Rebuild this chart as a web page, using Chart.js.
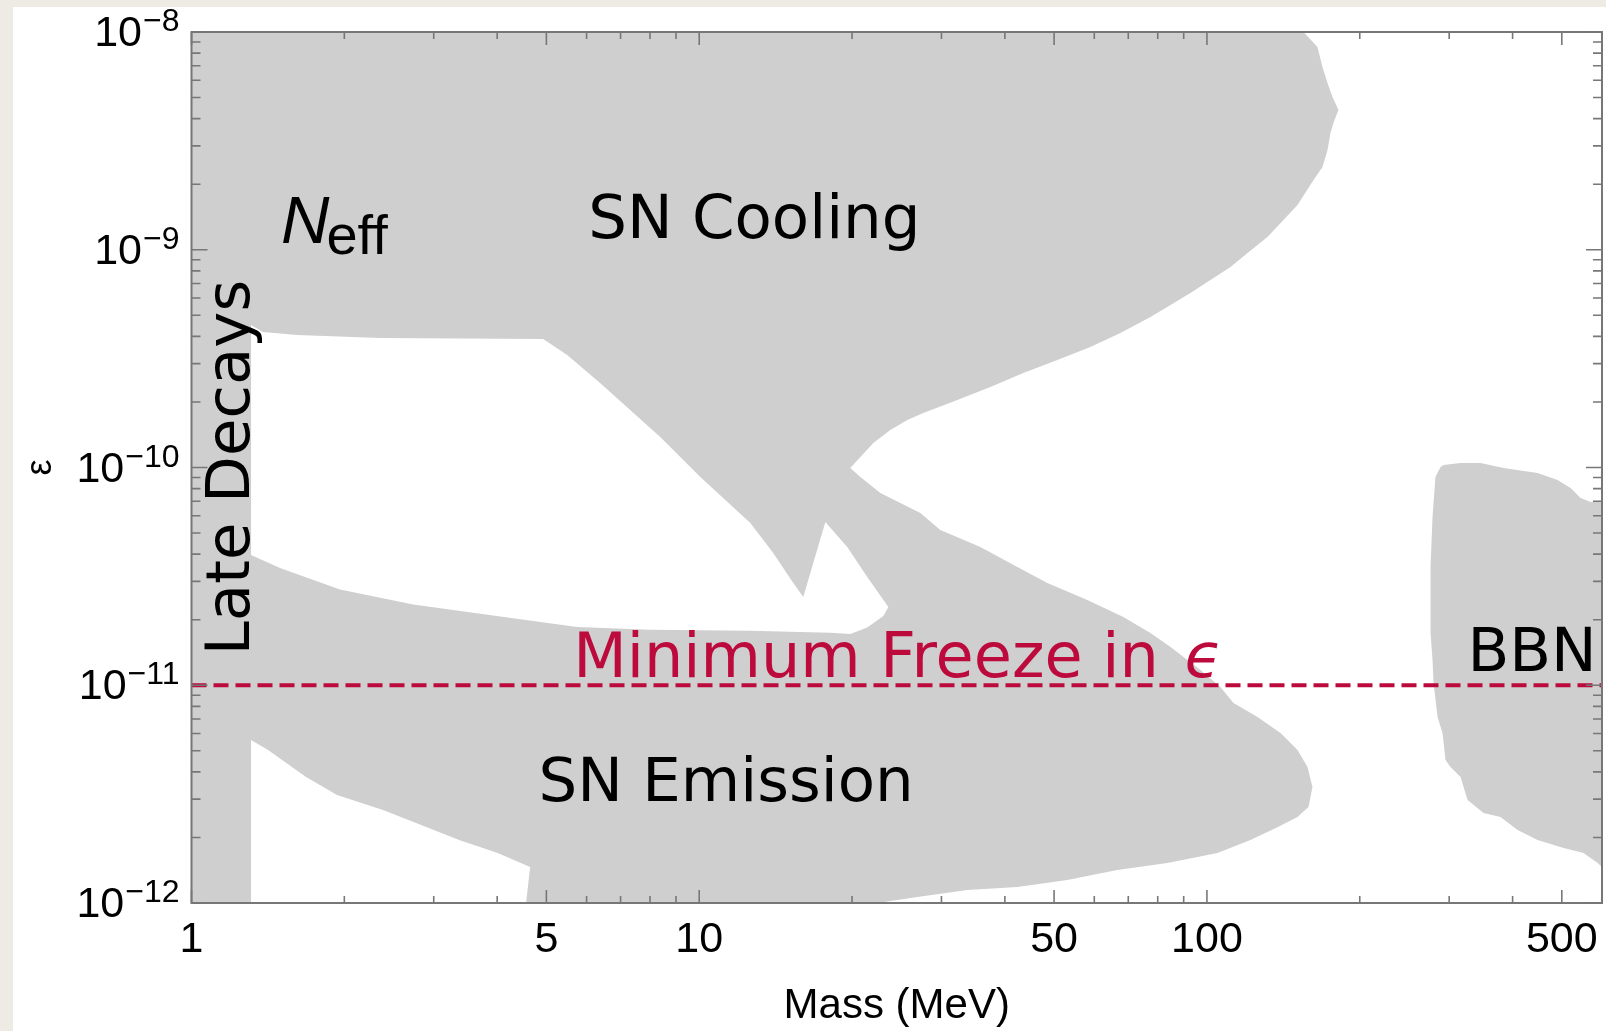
<!DOCTYPE html>
<html>
<head>
<meta charset="utf-8">
<script src="https://cdn.jsdelivr.net/npm/chart.js@4.4.1/dist/chart.umd.min.js"></script>
<style>
  html, body { margin: 0; padding: 0; width: 1606px; height: 1031px; overflow: hidden; background: #eeebe5; }
  #wrap { position: absolute; left: 13px; top: 7px; width: 1593px; height: 1024px; background: #ffffff; }
</style>
</head>
<body>
<div id="wrap"><canvas id="chart"></canvas></div>
<script>
// Dark photon parameter space: mass (MeV) against kinetic mixing epsilon.
const massRange = [1, 600];
const epsRange = [1e-12, 1e-8];
const freezeInEps = 1e-11;

// Axis ticks
const xMajorTicks = [1, 5, 10, 50, 100, 500];
const xMinorTicks = [2, 3, 4, 6, 7, 8, 9, 20, 30, 40, 60, 70, 80, 90, 200, 300, 400];
const yDecades = [-12, -11, -10, -9, -8];

// Late-decay exclusion strip
const lateMass = [1, 1.31, 1.31, 1];
const lateEps = [1e-12, 1e-12, 1e-8, 1e-8];

// Outer edge of the N_eff / SN cooling / SN emission exclusion, traced clockwise
const snOuterMass = [1, 155, 165.1, 168.9, 172.8, 176.7, 181.6, 177.5, 175.1, 172.8, 168.9, 162.2,
  150.8, 141.5, 131.6, 120.2, 111.3, 101.6, 92.8, 84.8, 77.4,
  67.55, 58.94, 50.74, 43.49, 37.44, 32.25, 27.63, 25.70, 23.79, 22.03, 20.77, 19.84,
  20.77, 22.74, 27.26, 29.85, 35.79, 42.33, 48.5, 58.15, 68.46, 77.4, 84.8, 97.1, 106.3,
  112.8, 125.8, 139.6, 150.8, 157.8, 161.4,
  158.5, 150.8, 137.7, 121.8, 104.9, 83.6, 66.6, 53.1, 42.33, 33.73, 26.89, 22.42, 1];
const snOuterEps = [1e-8, 1e-8, 8.53e-9, 6.9e-9, 5.83e-9, 5.03e-9, 4.38e-9, 3.82e-9, 3.44e-9, 2.87e-9, 2.40e-9, 2.09e-9,
  1.605e-9, 1.37e-9, 1.145e-9, 9.66e-10, 8.33e-10, 7.26e-10, 6.33e-10, 5.58e-10, 4.91e-10,
  4.146e-10, 3.575e-10, 3.116e-10, 2.716e-10, 2.343e-10, 2.042e-10, 1.779e-10, 1.652e-10, 1.487e-10, 1.296e-10, 1.117e-10, 9.95e-11,
  9.04e-11, 7.64e-11, 6.18e-11, 5.16e-11, 4.31e-11, 3.49e-11, 2.95e-11, 2.46e-11, 2.06e-11, 1.738e-11, 1.499e-11, 1.175e-11, 9.82e-12,
  8.29e-12, 7.15e-12, 6.03e-12, 5.04e-12, 4.21e-12, 3.41e-12,
  2.76e-12, 2.48e-12, 2.23e-12, 1.946e-12, 1.697e-12, 1.527e-12, 1.418e-12, 1.275e-12, 1.184e-12, 1.147e-12, 1.065e-12, 1e-12, 1e-12];

// Allowed window between the N_eff/cooling band and the SN emission band
const gapMass = [1.31, 1.383, 1.614, 2.351, 4.927, 5.495, 6.38, 8.38, 10.05, 12.61, 13.99, 15.32, 16.03,
  17.72, 19.57, 21.43, 23.58, 23.05, 21.43, 19.84, 18.12, 12.61, 8.01, 5.75, 4.30, 2.733, 1.961, 1.494, 1.31];
const gapEps = [4.51e-10, 4.19e-10, 4.06e-10, 3.93e-10, 3.89e-10, 3.285e-10, 2.443e-10, 1.38e-10, 9.04e-11, 5.56e-11, 4.05e-11, 2.95e-11, 2.54e-11,
  5.62e-11, 4.31e-11, 3.14e-11, 2.29e-11, 2.08e-11, 1.84e-11, 1.72e-11, 1.74e-11, 1.78e-11, 1.80e-11, 1.85e-11, 2.03e-11, 2.35e-11, 2.75e-11, 3.455e-11, 3.965e-11];

// Allowed corner below SN emission at low mass
const lowGapMass = [1.31, 1.415, 1.681, 1.935, 2.384, 2.833, 3.366, 4.009, 4.645, 4.561, 1.31];
const lowGapEps = [5.61e-12, 5.04e-12, 3.79e-12, 3.13e-12, 2.674e-12, 2.282e-12, 1.946e-12, 1.697e-12, 1.463e-12, 1e-12, 1e-12];

// BBN exclusion
const bbnMass = [292.4, 315.9, 345.9, 383.9, 447.9, 490.5, 520.3, 544.5, 569.8, 600, 600, 588.2, 551.9, 504.2, 447.9,
  409.1, 378.8, 350.6, 326.1, 315.9, 301.8, 295.1, 291.1, 284.6, 279.5, 278.2, 275.7, 275.7, 278.2, 281.9, 288.5];
const bbnEps = [1.027e-10, 1.049e-10, 1.049e-10, 9.95e-11, 9.43e-11, 8.76e-11, 8.05e-11, 7.24e-11, 6.94e-11, 6.94e-11, 1.463e-12, 1.527e-12, 1.697e-12, 1.789e-12, 1.946e-12,
  2.164e-12, 2.483e-12, 2.59e-12, 2.972e-12, 3.79e-12, 4.21e-12, 4.535e-12, 6.03e-12, 7.15e-12, 1.024e-11, 1.306e-11, 1.738e-11, 3.49e-11, 5.92e-11, 9.04e-11, 1.005e-10];

// Region labels, anchored in data coordinates (centre of text, baseline)
const regionLabels = [
  { text: 'SN Cooling', mass: 12.84, eps: 1.13e-9 },
  { text: 'SN Emission', mass: 11.30, eps: 2.94e-12 },
  { text: 'BBN', mass: 436.9, eps: 1.162e-11 }
];
const lateLabel = { text: 'Late Decays', mass: 1.298, eps: 1e-10 };
const neffLabel = { main: 'N', sub: 'eff', mass: 1.501, eps: 1.074e-9 };
const freezeLabel = { text: 'Minimum Freeze in ', symbol: '\u03F5', mass: 24.3, eps: 1.091e-11 };

const GRAY = '#cfcfcf';
const CRIMSON = '#bd0a3c';
const FRAME = '#777777';
const LABEL_FONT = '"DejaVu Sans", sans-serif';
const AXIS_FONT = '"Liberation Sans", Arial, sans-serif';

function polygon(label, mass, eps, color, order) {
  return {
    label,
    data: mass.map((m, i) => ({ x: m, y: eps[i] })),
    backgroundColor: color,
    borderColor: 'rgba(0,0,0,0)',
    borderWidth: 1,
    pointRadius: 0,
    pointHoverRadius: 0,
    tension: 0,
    fill: 'shape',
    order
  };
}

const framePlugin = {
  id: 'frameTicks',
  afterDatasetsDraw(chart) {
    const { ctx, chartArea: a, scales: { x, y } } = chart;
    ctx.save();
    // frame
    ctx.strokeStyle = FRAME;
    ctx.lineWidth = 2;
    ctx.strokeRect(a.left, a.top, a.right - a.left, a.bottom - a.top);
    // x ticks (bottom and top, pointing inwards)
    ctx.lineWidth = 1.6;
    ctx.beginPath();
    const xt = [...xMajorTicks.map(v => [v, 13]), ...xMinorTicks.map(v => [v, 7])];
    for (const [v, len] of xt) {
      const px = x.getPixelForValue(v);
      ctx.moveTo(px, a.bottom); ctx.lineTo(px, a.bottom - len);
      ctx.moveTo(px, a.top); ctx.lineTo(px, a.top + len);
    }
    // y ticks (left and right)
    const yt = [];
    for (const d of yDecades) {
      yt.push([Math.pow(10, d), 16]);
      if (d < -8) for (let k = 2; k <= 9; k++) yt.push([k * Math.pow(10, d), 9]);
    }
    for (const [v, len] of yt) {
      const py = y.getPixelForValue(v);
      ctx.moveTo(a.left, py); ctx.lineTo(a.left + len, py);
      ctx.moveTo(a.right, py); ctx.lineTo(a.right - len, py);
    }
    ctx.stroke();

    // tick labels
    ctx.fillStyle = '#000';
    ctx.textBaseline = 'alphabetic';
    ctx.textAlign = 'center';
    ctx.font = '43px ' + AXIS_FONT;
    for (const v of xMajorTicks) {
      ctx.fillText(String(v), x.getPixelForValue(v), a.bottom + 49);
    }
    ctx.textAlign = 'right';
    for (const d of yDecades) {
      const py = y.getPixelForValue(Math.pow(10, d));
      const exp = '\u2212' + Math.abs(d);
      const rx = a.left - 12;
      ctx.font = '32px ' + AXIS_FONT;
      const ew = ctx.measureText(exp).width;
      ctx.fillText(exp, rx, py - 1);
      ctx.font = '43px ' + AXIS_FONT;
      ctx.fillText('10', rx - ew - 1, py + 14);
    }

    // region labels
    ctx.fillStyle = '#000';
    ctx.textAlign = 'center';
    ctx.font = '61px ' + LABEL_FONT;
    for (const l of regionLabels) {
      ctx.fillText(l.text, x.getPixelForValue(l.mass), y.getPixelForValue(l.eps));
    }
    // vertical label
    ctx.save();
    ctx.translate(x.getPixelForValue(lateLabel.mass), y.getPixelForValue(lateLabel.eps));
    ctx.rotate(-Math.PI / 2);
    ctx.fillText(lateLabel.text, 0, 0);
    ctx.restore();
    // N_eff
    ctx.textAlign = 'left';
    const nx = x.getPixelForValue(neffLabel.mass), ny = y.getPixelForValue(neffLabel.eps);
    ctx.font = 'italic 67px ' + AXIS_FONT;
    const nw = ctx.measureText(neffLabel.main).width;
    ctx.fillText(neffLabel.main, nx, ny);
    ctx.font = '56px ' + AXIS_FONT;
    ctx.fillText(neffLabel.sub, nx + nw - 3, ny + 11);
    // freeze-in label
    ctx.fillStyle = CRIMSON;
    ctx.font = '62px ' + LABEL_FONT;
    const w1 = ctx.measureText(freezeLabel.text).width;
    ctx.font = 'italic 62px ' + LABEL_FONT;
    const w2 = ctx.measureText(freezeLabel.symbol).width;
    const fx = x.getPixelForValue(freezeLabel.mass) - (w1 + w2) / 2;
    const fy = y.getPixelForValue(freezeLabel.eps);
    ctx.font = '62px ' + LABEL_FONT;
    ctx.fillText(freezeLabel.text, fx, fy);
    ctx.font = 'italic 62px ' + LABEL_FONT;
    ctx.fillText(freezeLabel.symbol, fx + w1 + 6, fy);
    ctx.restore();
  }
};

new Chart(document.getElementById('chart'), {
  type: 'line',
  data: {
    datasets: [
      polygon('Late decays', lateMass, lateEps, GRAY, 4),
      polygon('N_eff / SN cooling / SN emission', snOuterMass, snOuterEps, GRAY, 4),
      polygon('BBN', bbnMass, bbnEps, GRAY, 4),
      polygon('Allowed window', gapMass, gapEps, '#ffffff', 3),
      polygon('Allowed corner', lowGapMass, lowGapEps, '#ffffff', 3),
      {
        label: 'Minimum freeze-in epsilon',
        data: [{ x: massRange[0], y: freezeInEps }, { x: massRange[1], y: freezeInEps }],
        borderColor: CRIMSON,
        borderWidth: 4,
        borderDash: [15, 7],
        pointRadius: 0,
        fill: false,
        order: 1
      }
    ]
  },
  options: {
    responsive: true,
    maintainAspectRatio: false,
    animation: false,
    events: [],
    layout: { padding: { left: 0, top: 25, right: 4, bottom: 0 } },
    plugins: { legend: { display: false }, tooltip: { enabled: false } },
    scales: {
      x: {
        type: 'logarithmic',
        min: massRange[0], max: massRange[1],
        position: 'bottom',
        grid: { display: false },
        border: { display: false },
        ticks: { display: false },
        title: {
          display: true, text: 'Mass (MeV)', color: '#000',
          font: { family: 'Liberation Sans', size: 42, lineHeight: 1.15 },
          padding: { top: 0, bottom: 0 }
        },
        afterFit(scale) { scale.height = 128; }
      },
      y: {
        type: 'logarithmic',
        min: epsRange[0], max: epsRange[1],
        position: 'left',
        grid: { display: false },
        border: { display: false },
        ticks: { display: false },
        title: {
          display: true, text: '\u03B5', color: '#000',
          font: { family: 'Liberation Sans', size: 36, lineHeight: 1 },
          padding: { top: 10, bottom: 0 }
        },
        afterFit(scale) { scale.width = 178.5; }
      }
    }
  },
  plugins: [framePlugin]
});
</script>
</body>
</html>
